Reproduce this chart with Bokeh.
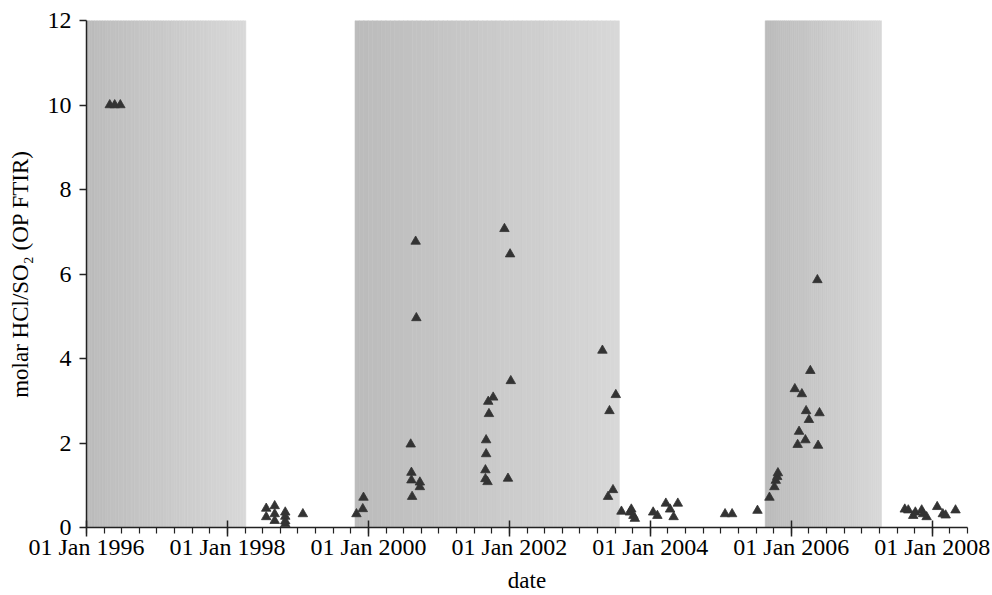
import numpy as np
from bokeh.plotting import figure
from bokeh.models import Range1d, FixedTicker
from bokeh.embed import file_html
from bokeh.resources import INLINE

# Shaded periods (decimal years)
period_start = [1996.0, 1999.81, 2005.63]
period_end = [1998.26, 2003.56, 2007.28]

# Observations: decimal year and molar HCl/SO2
obs_year = [
    1996.33, 1996.40, 1996.48,
    1998.55, 1998.55, 1998.67, 1998.67, 1998.67, 1998.82, 1998.82, 1998.82, 1998.82, 1999.07,
    1999.83, 1999.92, 1999.93,
    2000.60, 2000.61, 2000.61, 2000.62, 2000.67, 2000.68, 2000.73, 2000.73,
    2001.66, 2001.66, 2001.67, 2001.67, 2001.69, 2001.70, 2001.71, 2001.77, 2001.93, 2001.98, 2002.01, 2002.02,
    2003.32, 2003.51, 2003.42, 2003.47, 2003.40,
    2003.59, 2003.71, 2003.73, 2003.76, 2003.78, 2004.04, 2004.10, 2004.22, 2004.28, 2004.33, 2004.39,
    2005.06, 2005.16, 2005.52,
    2005.69, 2005.76, 2005.78, 2005.80, 2005.81, 2006.05, 2006.15, 2006.27, 2006.37, 2006.21, 2006.40,
    2006.25, 2006.11, 2006.20, 2006.09, 2006.38,
    2007.61, 2007.66, 2007.73, 2007.76, 2007.85, 2007.87, 2007.92, 2008.07, 2008.15, 2008.19, 2008.33,
]
obs_ratio = [
    10.0, 10.0, 10.0,
    0.45, 0.25, 0.51, 0.32, 0.16, 0.36, 0.26, 0.15, 0.08, 0.32,
    0.32, 0.44, 0.71,
    1.97, 1.30, 1.12, 0.73, 6.77, 4.96, 1.07, 0.96,
    1.15, 1.36, 2.07, 1.74, 1.08, 2.98, 2.69, 3.08, 7.07, 1.16, 6.47, 3.47,
    4.19, 3.14, 2.76, 0.89, 0.73,
    0.38, 0.36, 0.43, 0.28, 0.21, 0.36, 0.28, 0.57, 0.43, 0.25, 0.57,
    0.32, 0.32, 0.40,
    0.71, 0.96, 1.11, 1.20, 1.29, 3.28, 3.16, 3.71, 5.86, 2.76, 2.71,
    2.55, 2.27, 2.07, 1.96, 1.94,
    0.43, 0.41, 0.28, 0.36, 0.41, 0.32, 0.25, 0.49, 0.32, 0.29, 0.41,
]

major_years = [1996, 1998, 2000, 2002, 2004, 2006, 2008]
y_ticks = [0, 2, 4, 6, 8, 10, 12]

FONT = "Liberation Serif"

p = figure(width=992, height=595, output_backend="svg", toolbar_location=None,
           x_range=Range1d(1996.0, 2008.5), y_range=Range1d(0, 12),
           min_border_left=86, min_border_right=25, min_border_top=20, min_border_bottom=68)
p.outline_line_color = None
p.xgrid.visible = False
p.ygrid.visible = False
p.background_fill_color = "white"

# gradient shaded periods
n_strips = 60
for s, e in zip(period_start, period_end):
    edges = np.linspace(s, e, n_strips + 1)
    shades = np.linspace(188, 216, n_strips).astype(int)
    cols = ["#%02x%02x%02x" % (c, c, c) for c in shades]
    p.quad(left=edges[:-1], right=edges[1:], bottom=0, top=12,
           fill_color=cols, line_color=cols, line_width=0.6)

p.scatter(obs_year, obs_ratio, marker="triangle", size=9.5,
          fill_color="#333333", line_color="#333333", line_width=0.8)

# x axis
xa = p.xaxis[0]
xa.ticker = FixedTicker(ticks=major_years,
                        minor_ticks=list(np.arange(1996.0, 2008.51, 0.25)))
xa.major_label_overrides = {y: "01 Jan %d" % y for y in major_years}
xa.axis_label = "date"
xa.axis_line_color = "#222222"
xa.axis_line_width = 1.5
xa.major_tick_line_color = "#222222"
xa.major_tick_line_width = 1.5
xa.major_tick_in = 7
xa.major_tick_out = 9
xa.minor_tick_line_color = "#222222"
xa.minor_tick_line_width = 1.2
xa.minor_tick_in = 0
xa.minor_tick_out = 6
xa.major_label_standoff = -3
xa.axis_label_standoff = 5
xa.major_label_text_font = FONT
xa.major_label_text_font_size = "24px"
xa.major_label_text_color = "black"
xa.axis_label_text_font = FONT
xa.axis_label_text_font_size = "23px"
xa.axis_label_text_font_style = "normal"
xa.axis_label_text_color = "black"

# y axis
ya = p.yaxis[0]
ya.ticker = FixedTicker(ticks=y_ticks, minor_ticks=[])
ya.axis_label = "molar HCl/SO\u2082 (OP FTIR)"
ya.axis_line_color = "#222222"
ya.axis_line_width = 1.5
ya.major_tick_line_color = "#222222"
ya.major_tick_line_width = 1.5
ya.major_tick_in = 0
ya.major_tick_out = 7
ya.minor_tick_line_color = None
ya.major_label_standoff = 8
ya.axis_label_standoff = 12
ya.major_label_text_font = FONT
ya.major_label_text_font_size = "24px"
ya.major_label_text_color = "black"
ya.axis_label_text_font = FONT
ya.axis_label_text_font_size = "23px"
ya.axis_label_text_font_style = "normal"
ya.axis_label_text_color = "black"

open("out.html", "w").write(file_html(p, INLINE))
